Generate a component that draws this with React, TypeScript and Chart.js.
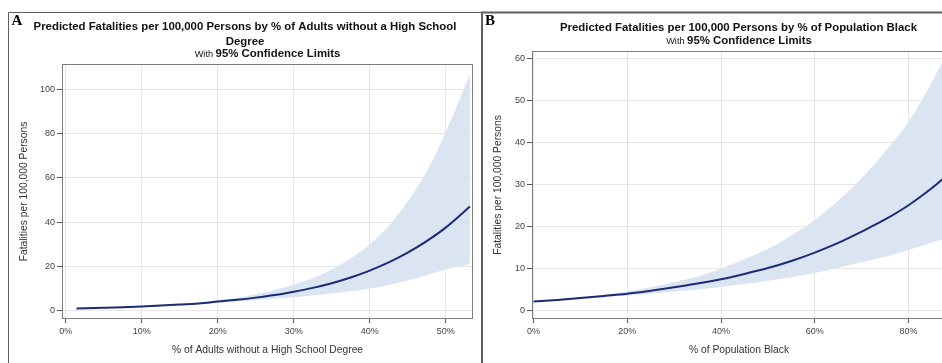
import React, { useEffect, useRef } from 'react';
import { Chart, registerables } from 'chart.js';

Chart.register(...registerables);

// ---------- Panel A data: % of adults without a high school degree ----------
const xA = [1.4, 5, 7.5, 10, 12.5, 15, 17.5, 20, 22.5, 25, 27.5, 30, 32.5, 35, 37.5, 40, 42.5, 45, 47.5, 50, 53.2];
const predA = [1.0, 1.3, 1.55, 1.9, 2.3, 2.75, 3.3, 4.1, 4.9, 5.9, 7.1, 8.6, 10.3, 12.4, 15.0, 18.1, 21.8, 26.2, 31.4, 37.5, 47.0];
const upperA = [1.12, 1.43, 1.69, 2.05, 2.5, 3.0, 3.7, 4.75, 5.8, 7.4, 9.3, 11.8, 14.6, 18.6, 23.6, 29.9, 38.2, 49.3, 62.8, 80.6, 106.7];
const lowerA = [0.89, 1.18, 1.43, 1.76, 2.1, 2.5, 2.95, 3.55, 4.1, 4.75, 5.4, 6.1, 6.9, 7.8, 8.8, 10.0, 11.6, 13.6, 16.0, 18.6, 21.0];
const xTicksA = [0, 10, 20, 30, 40, 50];
const xTickLabelsA = ['0%', '10%', '20%', '30%', '40%', '50%'];
const yTicksA = [0, 20, 40, 60, 80, 100];
const yTickLabelsA = ['0', '20', '40', '60', '80', '100'];
const titleA = ['Predicted Fatalities per 100,000 Persons by % of Adults without a High School', 'Degree'];
const xTitleA = '% of Adults without a High School Degree';

// ---------- Panel B data: % of population black ----------
const xB = [0, 5, 10, 15, 20, 25, 30, 35, 40, 45, 50, 55, 60, 65, 70, 75, 80, 85, 88];
const predB = [2.15, 2.5, 2.95, 3.45, 4.0, 4.7, 5.5, 6.4, 7.45, 8.7, 10.1, 11.8, 13.8, 16.1, 18.8, 21.7, 25.1, 29.2, 32.0];
const upperB = [2.37, 2.72, 3.15, 3.75, 4.5, 5.5, 6.7, 8.1, 10.0, 12.2, 14.7, 17.9, 21.6, 26.2, 31.6, 37.8, 45.0, 54.5, 61.0];
const lowerB = [1.95, 2.3, 2.75, 3.15, 3.55, 4.0, 4.5, 5.0, 5.6, 6.3, 7.1, 7.9, 8.9, 10.2, 11.5, 12.8, 14.4, 16.2, 17.3];
const xTicksB = [0, 20, 40, 60, 80];
const xTickLabelsB = ['0%', '20%', '40%', '60%', '80%'];
const yTicksB = [0, 10, 20, 30, 40, 50, 60];
const yTickLabelsB = ['0', '10', '20', '30', '40', '50', '60'];
const titleB = ['Predicted Fatalities per 100,000 Persons by % of Population Black'];
const xTitleB = '% of Population Black';

const yTitle = 'Fatalities per 100,000 Persons';
const subWith = 'With ';
const subBold = '95% Confidence Limits';

const FAMILY = '"Liberation Sans", Arial, Helvetica, sans-serif';
const LINE = '#1b2b78';
const BAND = '#dbe5f2';
const GRID = '#e6e6e6';
const TICK = '#555555';
const FRAME = '#5e5e5e';
const BOX = '#7c7c7c';

const decor = {
  id: 'decor',
  afterDatasetsDraw(chart: any) {
    const { ctx, chartArea: a } = chart;
    ctx.save();
    ctx.strokeStyle = BOX;
    ctx.lineWidth = 1;
    ctx.strokeRect(Math.round(a.left) + 0.5, Math.round(a.top) + 0.5, Math.round(a.right - a.left) - 1, Math.round(a.bottom - a.top) - 1);
    ctx.restore();
  },
  afterDraw(chart: any, _args: any, o: any) {
    const { ctx, chartArea: a } = chart;
    ctx.save();
    // panel frame
    ctx.strokeStyle = FRAME;
    ctx.lineWidth = o.frameW;
    ctx.beginPath();
    ctx.moveTo(o.frameL, chart.height + 5);
    ctx.lineTo(o.frameL, o.frameT);
    ctx.lineTo(o.frameR, o.frameT);
    ctx.stroke();
    // panel letter
    ctx.fillStyle = '#000';
    ctx.font = 'bold 15px "Liberation Serif", "Times New Roman", serif';
    ctx.textAlign = 'left';
    ctx.textBaseline = 'alphabetic';
    ctx.fillText(o.letter, o.letterX, 25);
    // title
    const bold = `bold 11.4px ${FAMILY}`;
    const small = `9.2px ${FAMILY}`;
    ctx.font = bold;
    ctx.textAlign = 'center';
    ctx.fillStyle = '#111';
    o.title.forEach((t: string, i: number) => ctx.fillText(t, o.titleX, o.titleY[i]));
    // subtitle (mixed fonts)
    ctx.font = small;
    const wa = ctx.measureText(subWith).width;
    ctx.font = bold;
    const wb = ctx.measureText(subBold).width;
    const cx = (a.left + a.right) / 2;
    const x0 = cx - (wa + wb) / 2;
    ctx.textAlign = 'left';
    ctx.font = small;
    ctx.fillText(subWith, x0, o.subY);
    ctx.font = bold;
    ctx.fillText(subBold, x0 + wa, o.subY);
    ctx.restore();
  },
};

function makeChart(canvas: HTMLCanvasElement, p: any) {
  const pts = (ys: number[]) => p.x.map((x: number, i: number) => ({ x, y: ys[i] }));
  return new Chart(canvas, {
    type: 'line',
    data: {
      datasets: [
        {
          label: 'Upper 95% CL',
          data: pts(p.upper),
          borderWidth: 0,
          borderColor: 'rgba(0,0,0,0)',
          backgroundColor: BAND,
          pointRadius: 0,
          fill: '+1',
          cubicInterpolationMode: 'monotone',
          order: 2,
        },
        {
          label: 'Lower 95% CL',
          data: pts(p.lower),
          borderWidth: 0,
          borderColor: 'rgba(0,0,0,0)',
          backgroundColor: BAND,
          pointRadius: 0,
          fill: false,
          cubicInterpolationMode: 'monotone',
          order: 3,
        },
        {
          label: 'Predicted',
          data: pts(p.pred),
          borderWidth: 2,
          borderColor: LINE,
          pointRadius: 0,
          fill: false,
          cubicInterpolationMode: 'monotone',
          order: 0,
        },
      ],
    } as any,
    options: {
      responsive: false,
      animation: false,
      devicePixelRatio: 1,
      layout: { padding: { top: p.padTop, left: 0, right: p.padRight, bottom: 0 } },
      plugins: {
        legend: { display: false },
        tooltip: { enabled: false },
        title: { display: false },
        filler: { drawTime: 'beforeDatasetsDraw' },
        decor: p.decor,
      } as any,
      scales: {
        x: {
          type: 'linear',
          min: p.xMin,
          max: p.xMax,
          afterFit: (s: any) => { s.height = 44; },
          afterBuildTicks: (s: any) => { s.ticks = p.xTicks.map((v: number) => ({ value: v })); },
          ticks: {
            callback: (_v: any, i: number) => p.xLabels[i],
            font: { family: FAMILY, size: 9 },
            color: '#444',
            padding: 3,
            maxRotation: 0,
            autoSkip: false,
          },
          grid: { color: GRID, tickColor: TICK, tickLength: 4, drawTicks: true },
          border: { display: false },
          title: {
            display: true,
            text: p.xTitle,
            font: { family: FAMILY, size: 10.3 },
            color: '#333',
            padding: { top: 0, bottom: 7 },
          },
        },
        y: {
          type: 'linear',
          min: p.yMin,
          max: p.yMax,
          afterFit: (s: any) => { s.width = p.yWidth; },
          afterBuildTicks: (s: any) => { s.ticks = p.yTicks.map((v: number) => ({ value: v })); },
          ticks: {
            callback: (_v: any, i: number) => p.yLabels[i],
            font: { family: FAMILY, size: 9 },
            color: '#444',
            padding: 2,
          },
          grid: { color: GRID, tickColor: TICK, tickLength: 5, drawTicks: true },
          border: { display: false },
          title: {
            display: true,
            text: yTitle,
            font: { family: FAMILY, size: 10.3 },
            color: '#333',
            padding: { top: p.yTitlePad, bottom: 0 },
          },
        },
      },
    } as any,
    plugins: [decor as any],
  });
}

export default function App() {
  const refA = useRef<HTMLCanvasElement>(null);
  const refB = useRef<HTMLCanvasElement>(null);

  useEffect(() => {
    const a = makeChart(refA.current!, {
      x: xA, pred: predA, upper: upperA, lower: lowerA,
      xTicks: xTicksA, xLabels: xTickLabelsA, yTicks: yTicksA, yLabels: yTickLabelsA,
      xTitle: xTitleA,
      xMin: -0.5, xMax: 53.6, yMin: -3.75, yMax: 111.4,
      padTop: 64, padRight: 8, yWidth: 62, yTitlePad: 17.5,
      decor: { letter: 'A', letterX: 11.5, frameL: 8.5, frameT: 12.5, frameR: 482, frameW: 1, title: titleA, titleX: 245, titleY: [30, 44.5], subY: 57 },
    });
    const b = makeChart(refB.current!, {
      x: xB, pred: predB, upper: upperB, lower: lowerB,
      xTicks: xTicksB, xLabels: xTickLabelsB, yTicks: yTicksB, yLabels: yTickLabelsB,
      xTitle: xTitleB,
      xMin: -0.34, xMax: 88.0, yMin: -2.05, yMax: 61.9,
      padTop: 51, padRight: 15, yWidth: 51, yTitlePad: 10.5,
      decor: { letter: 'B', letterX: 4, frameL: 1, frameT: 12.5, frameR: 480, frameW: 2, title: titleB, titleX: 257.5, titleY: [30.5], subY: 44 },
    });
    return () => { a.destroy(); b.destroy(); };
  }, []);

  return (
    <div style={{ position: 'fixed', left: 0, top: 0, width: 942, height: 363, overflow: 'hidden', background: '#fff' }}>
      <canvas ref={refA} width={481} height={363} style={{ position: 'absolute', left: 0, top: 0, width: 481, height: 363 }} />
      <canvas ref={refB} width={480} height={363} style={{ position: 'absolute', left: 481, top: 0, width: 480, height: 363 }} />
    </div>
  );
}
